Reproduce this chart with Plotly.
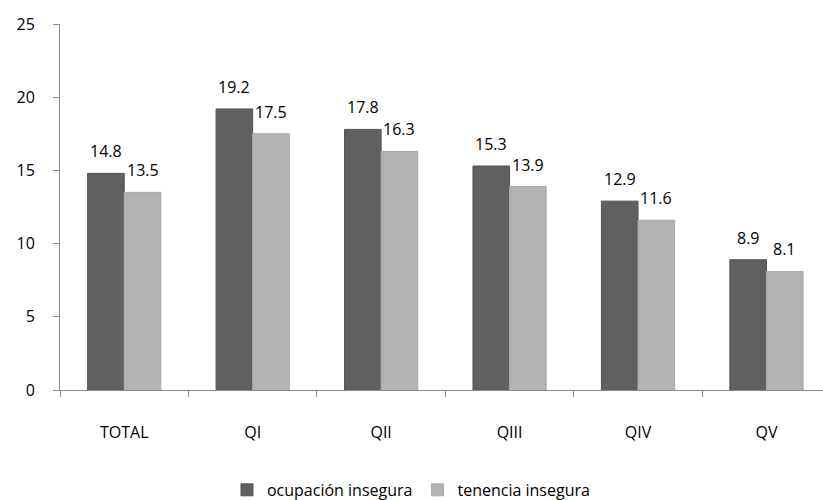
import plotly.graph_objects as go

categories = ["TOTAL", "QI", "QII", "QIII", "QIV", "QV"]
ocupacion = [14.8, 19.2, 17.8, 15.3, 12.9, 8.9]
tenencia = [13.5, 17.5, 16.3, 13.9, 11.6, 8.1]
y_ticks = [0, 5, 10, 15, 20, 25]

FONT = "Open Sans"
FS = 16
X_RANGE = [-0.5, 5.44]
PLOT_W = 823 - 60
BARGAP = 0.43

fig = go.Figure()
fig.add_trace(go.Bar(
    x=categories, y=ocupacion, name="ocupación insegura",
    marker=dict(color="#606060", line=dict(color="#555555", width=1)),
))
fig.add_trace(go.Bar(
    x=categories, y=tenencia, name="tenencia insegura",
    marker=dict(color="#B3B3B3", line=dict(color="#AAAAAA", width=1)),
))

# value labels floating a little above each bar
cat_px = PLOT_W / (X_RANGE[1] - X_RANGE[0])
half_bar = cat_px * (1 - BARGAP) / 4
for series, shift in ((ocupacion, -half_bar), (tenencia, half_bar)):
    for cat, val in zip(categories, series):
        fig.add_annotation(
            x=cat, y=val, text=f"{val:.1f}", showarrow=False,
            xanchor="center", yanchor="bottom", xshift=shift, yshift=9,
            font=dict(size=FS, color="#000000"),
        )

fig.update_layout(
    width=823, height=500,
    margin=dict(l=60, r=0, t=24, b=110, autoexpand=False),
    paper_bgcolor="white", plot_bgcolor="white",
    barmode="group", bargap=BARGAP, bargroupgap=0,
    font=dict(family=FONT, size=FS, color="#000000"),
    showlegend=True,
    legend=dict(orientation="h", x=0.46, xanchor="center", y=-0.273, yanchor="middle",
                font=dict(size=FS), itemwidth=30, traceorder="normal"),
    xaxis=dict(
        type="category", range=X_RANGE,
        showline=True, linecolor="#8C8C8C", linewidth=1,
        ticks="outside", tickson="boundaries", ticklen=6, tickcolor="#8C8C8C",
        ticklabelstandoff=28, showgrid=False,
    ),
    yaxis=dict(
        range=[0, 25], tickvals=y_ticks,
        showline=True, linecolor="#8C8C8C", linewidth=1,
        ticks="outside", ticklen=6, tickcolor="#8C8C8C",
        showgrid=False, zeroline=False, ticklabelstandoff=15,
    ),
)

fig.write_html("out.html")
